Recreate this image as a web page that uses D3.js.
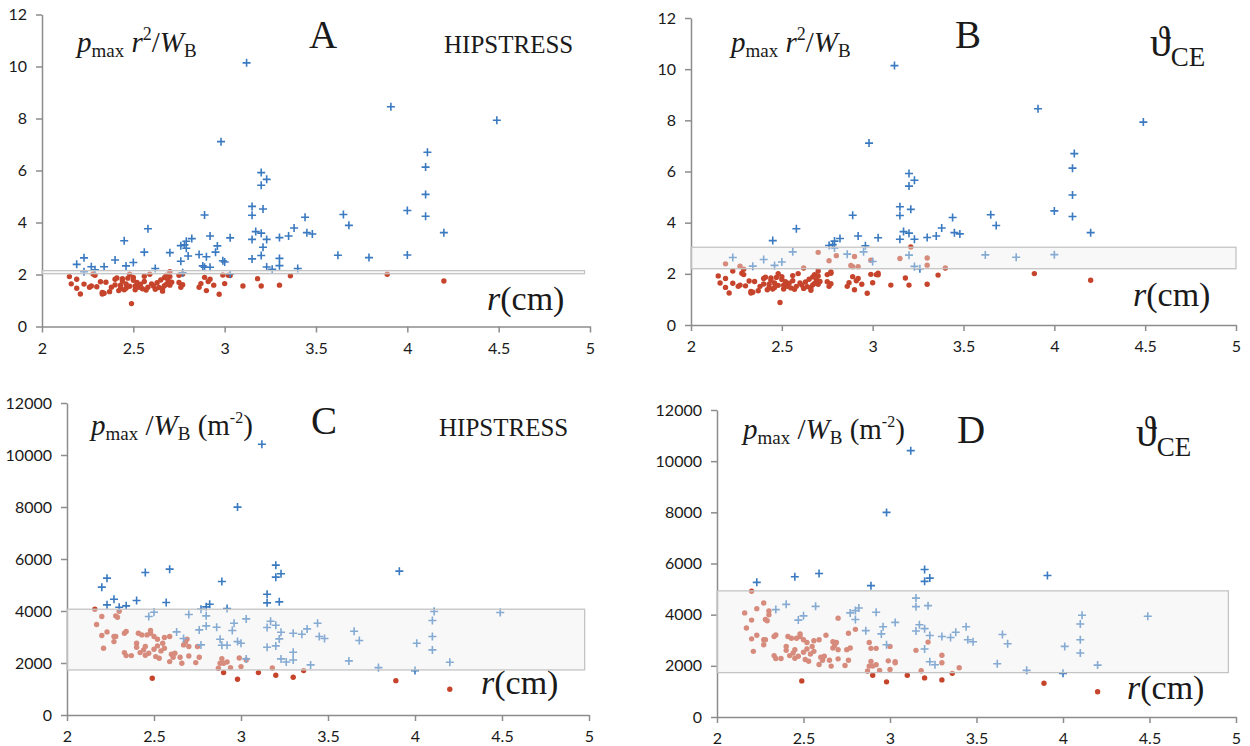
<!DOCTYPE html>
<html><head><meta charset="utf-8">
<script src="https://cdn.jsdelivr.net/npm/d3@7/dist/d3.min.js"></script>
<style>body{margin:0;background:#fff}</style></head>
<body><svg id="c" width="1250" height="746"></svg>
<script>
// ---------- data ----------
const xTicks = [2, 2.5, 3, 3.5, 4, 4.5, 5];
const yTicksAB = [0, 2, 4, 6, 8, 10, 12];
const yTicksCD = [0, 2000, 4000, 6000, 8000, 10000, 12000];

// p_max r^2 / W_B  (panels A, B): crosses in both A and B
const crossBothAB = [
[3.12,10.14],[3.91,8.45],[4.49,7.93],[2.98,7.11],[4.11,6.70],[4.10,6.13],[3.20,5.92],[3.23,5.66],[3.20,5.43],[4.10,5.08],
[3.15,4.62],[3.21,4.52],[4.00,4.46],[2.89,4.29],[3.15,4.28],[3.65,4.31],[4.10,4.24],[3.44,4.20],[3.68,3.89],[2.58,3.76],
[3.38,3.79],[3.17,3.65],[3.20,3.59],[3.45,3.61],[3.48,3.56],[4.20,3.61],[2.92,3.48],[3.35,3.48],[3.30,3.42],[3.03,3.41],
[3.15,3.35],[3.23,3.35],[2.82,3.38],[2.45,3.30],[2.79,3.28],[2.78,3.14],[2.76,3.11],[2.96,3.10],[2.79,3.01],
[2.56,2.86],[2.95,2.86],[2.86,2.77],[3.62,2.74],[3.20,2.73],[4.00,2.75],[3.79,2.65],[2.23,2.64],[2.40,2.56],[3.00,2.48],
[2.50,2.46],[2.46,2.33],[2.34,2.30],[3.23,2.29],[3.26,2.20]
];
// crosses in A (HIPSTRESS) that are dots in B (theta_CE)
const crossAOnlyAB = [
[3.21,3.05],[2.70,2.84],[2.80,2.71],[2.90,2.68],[3.15,2.60],[3.30,2.62],[2.76,2.51],[2.99,2.53],[2.19,2.39],[2.88,2.33],
[2.27,2.30],[2.89,2.28],[2.92,2.28],[3.30,2.34],[3.40,2.23],[2.62,2.23],[2.23,2.11],[2.29,2.18],[2.77,2.07],[3.03,2.02]
];
// dots in both A and B
const dotsAB = [
[2.49,0.88],[2.15,1.92],[2.16,1.64],[2.19,1.82],[2.19,1.47],[2.21,1.25],[2.23,1.63],[2.26,1.51],[2.27,1.56],[2.28,2.02],
[2.29,1.97],[2.32,1.72],[2.33,1.31],[2.33,1.25],[2.34,1.28],[2.37,1.34],[2.38,1.51],[2.40,1.60],[2.40,1.82],[2.41,1.87],
[2.43,1.46],[2.43,1.59],[2.44,1.84],[2.45,1.41],[2.46,1.64],[2.46,1.47],[2.47,1.86],[2.48,2.01],[2.50,1.89],[2.51,1.56],
[2.51,1.41],[2.52,1.69],[2.53,1.51],[2.54,1.63],[2.56,1.93],[2.56,1.73],[2.57,1.40],[2.58,1.51],[2.59,2.01],[2.60,1.64],
[2.61,1.56],[2.62,1.43],[2.63,1.68],[2.65,1.79],[2.66,1.46],[2.66,1.36],[2.67,1.88],[2.67,1.57],[2.68,1.97],[2.69,1.77],
[2.70,2.11],[2.70,1.92],[2.70,1.59],[2.75,1.69],[2.76,1.51],[2.77,2.02],[2.77,1.61],[2.75,1.97],[2.86,1.51],[2.87,1.65],
[2.89,1.89],[2.90,1.38],[2.91,1.73],[2.92,1.82],[2.94,1.59],[2.97,1.24],[2.99,1.98],[3.00,1.65],[3.02,1.97],[3.03,1.96],
[3.10,1.56],[3.18,1.84],[3.20,1.56],[3.30,1.59],[3.36,1.95],[3.89,2.01],[4.20,1.75],
[2.35,1.70],[2.42,1.38],[2.48,1.55],[2.55,1.45],[2.64,1.50],[2.68,1.62],[2.71,1.70],[2.30,1.53],[2.44,1.75],[2.50,1.78]
];

// p_max / W_B (m^-2)  (panels C, D)
const crossBothCD = [
[3.12,10411],[2.98,7997],[3.91,5533],[3.20,5764],[3.20,5302],[3.23,5430],[2.59,5610],[2.45,5481],[2.89,5135],[2.23,5263],
[3.15,4647],[3.15,4313],[3.22,4352],[2.40,4403],[2.57,4326],[2.34,4198],[2.82,4262],[2.80,4159],[2.77,4069],[2.92,4095],
[4.11,3979],[4.49,3941],[2.50,3954],[2.80,3813],[2.47,3787],[3.03,3697],[4.10,3633],[3.17,3607],[2.96,3530],[3.44,3530],
[3.20,3453],[2.86,3376],[3.15,3363],[3.38,3312],[2.95,3248],[3.65,3222],[3.23,3184],[3.30,3145],[3.35,3106],[4.10,3017],
[3.45,3017],[3.48,2940],[3.68,2863],[4.01,2760],[2.98,2824],[3.20,2657],[4.10,2503],[3.23,2157],[3.26,2041],[3.62,2080],
[4.20,2028],[3.79,1823],[4.00,1707]
];
const crossCOnlyCD = [
[2.20,4917],[2.27,4454],[2.23,4236],[2.30,4146],[2.70,3864],[2.80,3427],[2.76,3273],[2.63,3196],[2.67,2940],[2.88,2914],
[3.22,2927],[3.00,2760],[2.77,2696],[2.89,2683],[2.92,2683],[3.15,2606],[3.30,2413],[3.03,2157],[3.30,2118],[3.40,1926]
];
const dotsCD = [
[2.16,4069],[2.17,3479],[2.20,3787],[2.20,3055],[2.21,2567],[2.23,3196],[2.28,3813],[2.29,3761],[2.30,3992],[2.27,3017],
[2.27,2824],[2.28,3017],[2.33,3145],[2.34,3209],[2.33,2400],[2.34,2285],[2.37,2285],[2.40,2606],[2.40,2760],[2.41,3145],
[2.42,2400],[2.43,3081],[2.44,2503],[2.45,2298],[2.45,2632],[2.46,3081],[2.47,2375],[2.48,3145],[2.48,3248],[2.49,1412],
[2.50,2529],[2.50,3017],[2.51,2247],[2.52,2914],[2.52,2657],[2.53,2182],[2.54,2465],[2.55,2760],[2.56,2567],[2.56,2978],
[2.59,3017],[2.59,2054],[2.60,2336],[2.61,2220],[2.62,2375],[2.65,2220],[2.66,1990],[2.67,2696],[2.68,2798],[2.69,2914],
[2.70,2632],[2.70,2272],[2.74,2015],[2.75,2632],[2.76,2220],[2.87,1797],[2.88,1990],[2.89,2170],[2.90,1630],[2.90,1990],
[2.92,2041],[2.94,1823],[2.98,1374],[2.99,2195],[3.00,1861],[3.03,2118],[3.10,1630],[3.18,1810],[3.20,1528],[3.30,1451],
[3.36,1707],[3.89,1322],[4.20,988]
];

// reference bands: [low, high, right end r]
const bandA = [2.03, 2.15, 4.97];
const bandB = [2.20, 3.04, 5.0];
const bandC = [1733, 4069, 4.975];
const bandD = [1735, 4930, 4.956];

// ---------- drawing ----------
const svg = d3.select('#c');
const BLUE = '#3a7ac0', RED = '#c6442b';
const serif = "'Liberation Serif','Times New Roman',serif";

function panel(cfg) {
  const g = svg.append('g');
  const x = d3.scaleLinear().domain([2, 5]).range([cfg.l, cfg.r]);
  const y = d3.scaleLinear().domain([0, cfg.ymax]).range([cfg.b, cfg.t]);

  const xa = d3.axisBottom(x).tickValues(xTicks).tickSize(6).tickSizeOuter(0).tickPadding(10).tickFormat(d => String(d));
  const ya = d3.axisLeft(y).tickValues(cfg.yTicks).tickSize(6).tickSizeOuter(0).tickPadding(9).tickFormat(d3.format('d'));
  const gx = g.append('g').attr('transform', `translate(0,${cfg.b})`).call(xa);
  const gy = g.append('g').attr('transform', `translate(${cfg.l},0)`).call(ya);
  [gx, gy].forEach(a => {
    a.select('.domain').attr('stroke', '#8c8c8c').attr('stroke-width', 1.5);
    a.selectAll('.tick line').attr('stroke', '#8c8c8c').attr('stroke-width', 1.5);
    a.selectAll('.tick text').attr('fill', '#1a1a1a').style('font-family', "Lato,'Open Sans',sans-serif").style('font-size', '16px');
  });

  g.append('g').selectAll('circle').data(cfg.dots).join('circle')
    .attr('cx', d => x(d[0])).attr('cy', d => y(d[1])).attr('r', 2.7).attr('fill', RED);
  g.append('g').selectAll('path').data(cfg.crosses).join('path')
    .attr('d', d => `M${x(d[0]) - 4},${y(d[1])}H${x(d[0]) + 4}M${x(d[0])},${y(d[1]) - 4}V${y(d[1]) + 4}`)
    .attr('stroke', BLUE).attr('stroke-width', 1.6).attr('fill', 'none');

  const bd = cfg.band;
  g.append('rect').attr('x', x(2)).attr('y', y(bd[1])).attr('width', x(bd[2]) - x(2)).attr('height', y(bd[0]) - y(bd[1]))
    .attr('fill', '#eeeeee').attr('fill-opacity', 0.42).attr('stroke', '#c4c4c4').attr('stroke-width', 1.3);

  // texts
  const t = (xx, yy, size) => g.append('text').attr('x', xx).attr('y', yy).style('font-family', serif).style('font-size', size + 'px').attr('fill', '#1a1a1a');
  // y label
  const yl = t(cfg.yl[0], cfg.yl[1], 29);
  if (cfg.kind === 'AB') {
    yl.append('tspan').style('font-style', 'italic').text('p');
    yl.append('tspan').style('font-size', '19px').attr('dy', 5).text('max');
    yl.append('tspan').attr('dy', -5).text(' ');
    yl.append('tspan').style('font-style', 'italic').text('r');
    yl.append('tspan').style('font-size', '18px').attr('dy', -12).text('2');
    yl.append('tspan').attr('dy', 12).text('/');
    yl.append('tspan').style('font-style', 'italic').text('W');
    yl.append('tspan').style('font-size', '19px').attr('dy', 5).text('B');
  } else {
    yl.append('tspan').style('font-style', 'italic').text('p');
    yl.append('tspan').style('font-size', '19px').attr('dy', 5).text('max');
    yl.append('tspan').attr('dy', -5).text(' /');
    yl.append('tspan').style('font-style', 'italic').text('W');
    yl.append('tspan').style('font-size', '19px').attr('dy', 5).text('B');
    yl.append('tspan').attr('dy', -5).text(' (m');
    yl.append('tspan').style('font-size', '16px').attr('dy', -12).text('-2');
    yl.append('tspan').attr('dy', 12).text(')');
  }
  // panel letter
  t(cfg.letter[0], cfg.letter[1], 39).text(cfg.name);
  // method label
  if (cfg.method === 'HIP') {
    t(cfg.meth[0], cfg.meth[1], 25).text('HIPSTRESS');
  } else {
    const m = t(cfg.meth[0], cfg.meth[1], 42);
    m.append('tspan').text('\u03D1');
    m.append('tspan').style('font-size', '27px').attr('dy', 10).text('CE');
  }
  // x label
  const xl = t(cfg.xl[0], cfg.xl[1], 34);
  xl.append('tspan').style('font-style', 'italic').text('r');
  xl.append('tspan').text('(cm)');
}

panel({kind: 'AB', name: 'A', method: 'HIP', l: 42, r: 590, b: 326.5, t: 14.5, ymax: 12, yTicks: yTicksAB,
  dots: dotsAB, crosses: crossBothAB.concat(crossAOnlyAB), band: bandA,
  yl: [77, 52], letter: [309, 48], meth: [444, 53], xl: [487, 310]});
panel({kind: 'AB', name: 'B', method: 'CE', l: 691, r: 1236, b: 325, t: 18, ymax: 12, yTicks: yTicksAB,
  dots: dotsAB.concat(crossAOnlyAB), crosses: crossBothAB, band: bandB,
  yl: [731, 52], letter: [955, 48], meth: [1150, 56], xl: [1133, 306]});
panel({kind: 'CD', name: 'C', method: 'HIP', l: 67, r: 589, b: 715, t: 403, ymax: 12000, yTicks: yTicksCD,
  dots: dotsCD, crosses: crossBothCD.concat(crossCOnlyCD), band: bandC,
  yl: [91, 435], letter: [311, 434], meth: [439, 436], xl: [481, 694]});
panel({kind: 'CD', name: 'D', method: 'CE', l: 717, r: 1236, b: 717, t: 410, ymax: 12000, yTicks: yTicksCD,
  dots: dotsCD.concat(crossCOnlyCD), crosses: crossBothCD, band: bandD,
  yl: [743, 439], letter: [957, 443], meth: [1136, 446], xl: [1127, 699]});
</script></body></html>
